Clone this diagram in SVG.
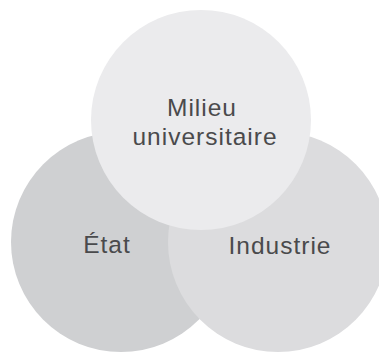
<svg xmlns="http://www.w3.org/2000/svg" width="379" height="356" viewBox="0 0 379 356">
  <style>
    .label { font-family: "Liberation Sans", Arial, sans-serif; font-size: 24.5px; fill: #4a4a4c; text-anchor: middle; letter-spacing: 1px; }
  </style>
  <rect width="379" height="356" fill="#ffffff"/>
  <g id="connectors"/>
  <g id="etat">
    <circle cx="121" cy="242" r="110" fill="#cfd0d2"/>
    <text class="label" x="107" y="253">État</text>
  </g>
  <g id="industrie">
    <circle cx="278" cy="242" r="110" fill="#dcdcde"/>
    <text class="label" x="280" y="254">Industrie</text>
  </g>
  <g id="milieu-universitaire">
    <circle cx="201" cy="120" r="110" fill="#ebebed"/>
    <text class="label" x="202" y="116">Milieu</text>
    <text class="label" x="205" y="145">universitaire</text>
  </g>
</svg>
